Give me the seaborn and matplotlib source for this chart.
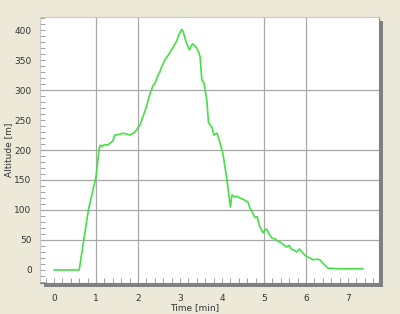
import numpy as np
import pandas as pd
import matplotlib
matplotlib.use("Agg")
import matplotlib.pyplot as plt
from matplotlib.patches import Rectangle
from matplotlib.ticker import MultipleLocator, FixedLocator
import seaborn as sns

# Data
time_min = [0.0, 0.3, 0.6, 0.82, 1.0, 1.05, 1.07, 1.1, 1.15, 1.2, 1.27, 1.33, 1.4, 1.45,
            1.55, 1.65, 1.75, 1.81, 1.87, 1.93, 2.05, 2.12, 2.2, 2.28, 2.36, 2.4, 2.44,
            2.48, 2.52, 2.56, 2.64, 2.72, 2.8, 2.86, 2.93, 2.97, 3.0, 3.04, 3.08, 3.12,
            3.16, 3.22, 3.26, 3.3, 3.35, 3.4, 3.45, 3.48, 3.52, 3.57, 3.6, 3.64, 3.68,
            3.72, 3.76, 3.81, 3.88, 3.95, 4.02, 4.12, 4.2, 4.24, 4.3, 4.35, 4.43, 4.5,
            4.55, 4.62, 4.66, 4.7, 4.75, 4.79, 4.84, 4.9, 4.98, 5.03, 5.07, 5.12, 5.19,
            5.26, 5.33, 5.4, 5.45, 5.54, 5.6, 5.65, 5.72, 5.78, 5.85, 5.9, 6.02, 6.1,
            6.17, 6.25, 6.33, 6.45, 6.53, 6.8, 7.1, 7.36]
altitude_m = [0, 0, 0, 100, 155, 185, 200, 208, 206, 209, 208, 211, 215, 225,
              226, 228, 226, 225, 227, 230, 242, 256, 272, 292, 308, 310, 318,
              325, 330, 338, 350, 358, 367, 374, 383, 392, 395, 401, 397, 386,
              378, 367, 372, 377, 374, 370, 362, 355, 317, 312, 300, 283, 245,
              242, 238, 225, 228, 213, 195, 150, 105, 125, 122, 123, 120, 118,
              116, 113, 104, 100, 92, 87, 89, 72, 62, 67, 68, 60, 53,
              52, 48, 46, 43, 38, 41, 35, 33, 30, 35, 30, 22, 20,
              17, 18, 17, 8, 3, 2, 2, 2]

x_ticks = [0, 1, 2, 3, 4, 5, 6, 7]
y_ticks = [0, 50, 100, 150, 200, 250, 300, 350, 400]
x_grid = [1, 2, 5, 6]
y_grid = [50, 100, 150, 200, 300]

df = pd.DataFrame({"Time [min]": time_min, "Altitude [m]": altitude_m})

sns.set_style("white")
plt.rcParams["font.family"] = ["DejaVu Sans"]

fig = plt.figure(figsize=(4.0, 3.14), dpi=100)
fig.patch.set_facecolor("#ECE9D8")

W, H = 400, 314
left, right, top, bottom = 40, 379, 17, 283
ax = fig.add_axes([left / W, 1 - bottom / H, (right - left) / W, (bottom - top) / H])
ax.set_zorder(2)

# drop shadow of plot area
shadow = Rectangle(((left + 4) / W, 1 - (bottom + 4) / H), (right - left) / W, (bottom - top) / H,
                   transform=fig.transFigure, facecolor="#808080", edgecolor="none", zorder=-1)
fig.patches.append(shadow)

ax.set_facecolor("white")
sns.lineplot(data=df, x="Time [min]", y="Altitude [m]", ax=ax, color="#44E044",
             linewidth=1.2, estimator=None, sort=False)

ax.set_xlim(-0.333, 7.74)
ax.set_ylim(-21.7, 421.7)

for xv in x_grid:
    ax.axvline(xv, color="#A8A8A8", linewidth=0.9, zorder=0.5)
for yv in y_grid:
    ax.axhline(yv, color="#A8A8A8", linewidth=0.9, zorder=0.5)

ax.xaxis.set_major_locator(FixedLocator(x_ticks))
ax.yaxis.set_major_locator(FixedLocator(y_ticks))
ax.xaxis.set_minor_locator(MultipleLocator(0.2))
ax.yaxis.set_minor_locator(MultipleLocator(10))
ax.set_xticklabels([str(v) for v in x_ticks])
ax.set_yticklabels([str(v) for v in y_ticks])

ax.tick_params(axis="both", which="both", direction="in", color="#A0A0A0",
               width=0.7, labelsize=6.5, labelcolor="#333333",
               bottom=True, left=True, top=False, right=False)
ax.tick_params(axis="both", which="major", length=3.5)
ax.tick_params(axis="both", which="minor", length=3.5)
ax.tick_params(axis="x", which="major", pad=8)
ax.tick_params(axis="y", which="major", pad=6)

for side in ["top", "left"]:
    ax.spines[side].set_color("#C8C8C8")
    ax.spines[side].set_linewidth(0.8)
for side in ["bottom", "right"]:
    ax.spines[side].set_color("#808080")
    ax.spines[side].set_linewidth(0.8)

ax.set_xlabel("Time [min]", fontsize=6.5, color="#333333")
ax.set_ylabel("Altitude [m]", fontsize=6.5, color="#333333")
ax.xaxis.set_label_coords(0.457, -0.092)
ax.xaxis.label.set_va("center")
ax.yaxis.set_label_coords(-0.094, 0.5)
ax.yaxis.label.set_va("center")

fig.savefig("out.png", dpi=100, facecolor=fig.get_facecolor())
